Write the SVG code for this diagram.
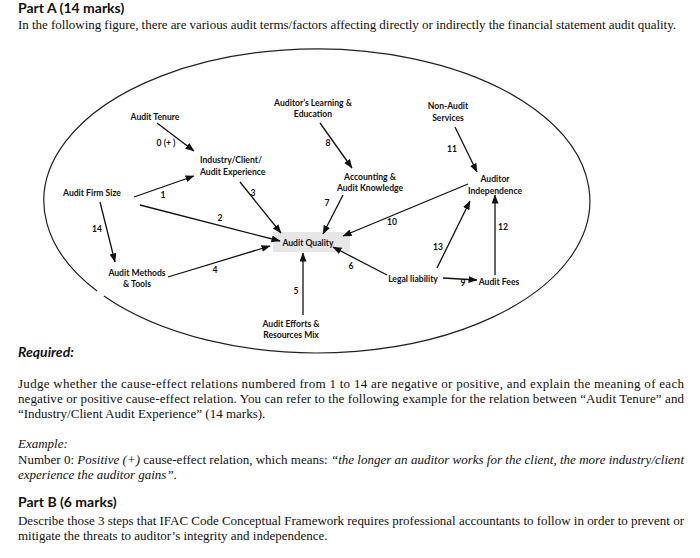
<svg xmlns="http://www.w3.org/2000/svg" width="700" height="558" viewBox="0 0 700 558">
<style>
.n{font-family:Lato,"Liberation Sans",sans-serif;font-weight:bold;font-size:8.6px;fill:#111;text-anchor:middle}
.l{font-family:Lato,"Liberation Sans",sans-serif;font-weight:bold;font-size:8.6px;fill:#111;text-anchor:middle}
.c line{stroke:#111;stroke-width:1.3;marker-end:url(#ah)}
.h{font-family:Lato,"Liberation Sans",sans-serif;font-weight:bold;font-size:14px;fill:#111}
.b{font-family:"Liberation Serif",serif;font-size:13px;fill:#111}
.i{font-style:italic}
</style>
<defs>
<marker id="ah" markerUnits="userSpaceOnUse" markerWidth="9" markerHeight="8" refX="8.5" refY="3.5" orient="auto">
<path d="M0,0 L9,3.5 L0,7 z" fill="#111"/>
</marker>
</defs>
<rect width="700" height="558" fill="#fff"/>

<text class="h" x="18" y="13">Part A (14 marks)</text>
<text class="b" x="18" y="29" textLength="658">In the following figure, there are various audit terms/factors affecting directly or indirectly the financial statement audit quality.</text>

<path id="boundary" d="M 103.9 296 A 273 152 0 1 0 97 291" fill="none" stroke="#222" stroke-width="1.2"/>

<g id="audit-quality"><rect x="273" y="232" width="77" height="20" fill="#e6e6e6"/><text class="n" x="308" y="246">Audit Quality</text></g>
<g id="audit-tenure"><text class="n" x="155" y="120">Audit Tenure</text></g>
<g id="industry-experience"><text class="n" x="200" y="163" style="text-anchor:start">Industry/Client/</text><text class="n" x="200" y="175" style="text-anchor:start">Audit Experience</text></g>
<g id="audit-firm-size"><text class="n" x="92" y="196">Audit Firm Size</text></g>
<g id="audit-methods"><text class="n" x="137" y="276">Audit Methods</text><text class="n" x="137" y="287">&amp; Tools</text></g>
<g id="audit-efforts"><text class="n" x="291" y="327">Audit Efforts &amp;</text><text class="n" x="291" y="338">Resources Mix</text></g>
<g id="learning"><text class="n" x="313" y="106">Auditor’s Learning &amp;</text><text class="n" x="313" y="117">Education</text></g>
<g id="knowledge"><text class="n" x="370" y="180">Accounting &amp;</text><text class="n" x="370" y="191">Audit Knowledge</text></g>
<g id="non-audit"><text class="n" x="448" y="109">Non-Audit</text><text class="n" x="448" y="121">Services</text></g>
<g id="independence"><text class="n" x="495" y="182">Auditor</text><text class="n" x="495" y="194">Independence</text></g>
<g id="legal-liability"><text class="n" x="413" y="282">Legal liability</text></g>
<g id="audit-fees"><text class="n" x="499" y="285">Audit Fees</text></g>

<g id="connectors" class="c">
<line x1="157" y1="123" x2="194" y2="151"/>
<line x1="134" y1="197" x2="194" y2="176"/>
<line x1="140" y1="205" x2="280" y2="241"/>
<line x1="240" y1="182" x2="281" y2="233"/>
<line x1="168" y1="277" x2="270" y2="246"/>
<line x1="303" y1="315" x2="303" y2="253"/>
<line x1="387" y1="275" x2="333" y2="247"/>
<line x1="343" y1="195" x2="323" y2="234"/>
<line x1="320" y1="123" x2="352" y2="168"/>
<line x1="443" y1="278" x2="477" y2="280"/>
<line x1="468" y1="184" x2="343" y2="236"/>
<line x1="455" y1="127" x2="477" y2="172"/>
<line x1="495" y1="275" x2="495" y2="195"/>
<line x1="437" y1="268" x2="470" y2="201"/>
<line x1="100" y1="202" x2="115" y2="262"/>
<g id="connector-labels">
<text class="l" x="166" y="146">0 (+ )</text>
<text class="l" x="163" y="198">1</text>
<text class="l" x="220" y="221">2</text>
<text class="l" x="253" y="196">3</text>
<text class="l" x="215" y="273">4</text>
<text class="l" x="296" y="294">5</text>
<text class="l" x="351" y="269">6</text>
<text class="l" x="327" y="206">7</text>
<text class="l" x="328" y="146">8</text>
<text class="l" x="463" y="286">9</text>
<text class="l" x="392" y="225">10</text>
<text class="l" x="452" y="152">11</text>
<text class="l" x="503" y="230">12</text>
<text class="l" x="438" y="250">13</text>
<text class="l" x="97" y="232">14</text>
</g>
</g>

<text class="h i" x="18" y="357">Required:</text>
<text class="b" x="18" y="388" textLength="666">Judge whether the cause-effect relations numbered from 1 to 14 are negative or positive, and explain the meaning of each</text>
<text class="b" x="18" y="403" textLength="666">negative or positive cause-effect relation. You can refer to the following example for the relation between “Audit Tenure” and</text>
<text class="b" x="18" y="418">“Industry/Client Audit Experience” (14 marks).</text>
<text class="b i" x="18" y="448">Example:</text>
<text class="b" x="18" y="464" textLength="666">Number 0: <tspan class="i">Positive (+)</tspan> cause-effect relation, which means: <tspan class="i">“the longer an auditor works for the client, the more industry/client</tspan></text>
<text class="b" x="18" y="479"><tspan class="i">experience the auditor gains”</tspan>.</text>
<text class="h" x="18" y="507">Part B (6 marks)</text>
<text class="b" x="18" y="525" textLength="666">Describe those 3 steps that IFAC Code Conceptual Framework requires professional accountants to follow in order to prevent or</text>
<text class="b" x="18" y="540">mitigate the threats to auditor’s integrity and independence.</text>
</svg>
